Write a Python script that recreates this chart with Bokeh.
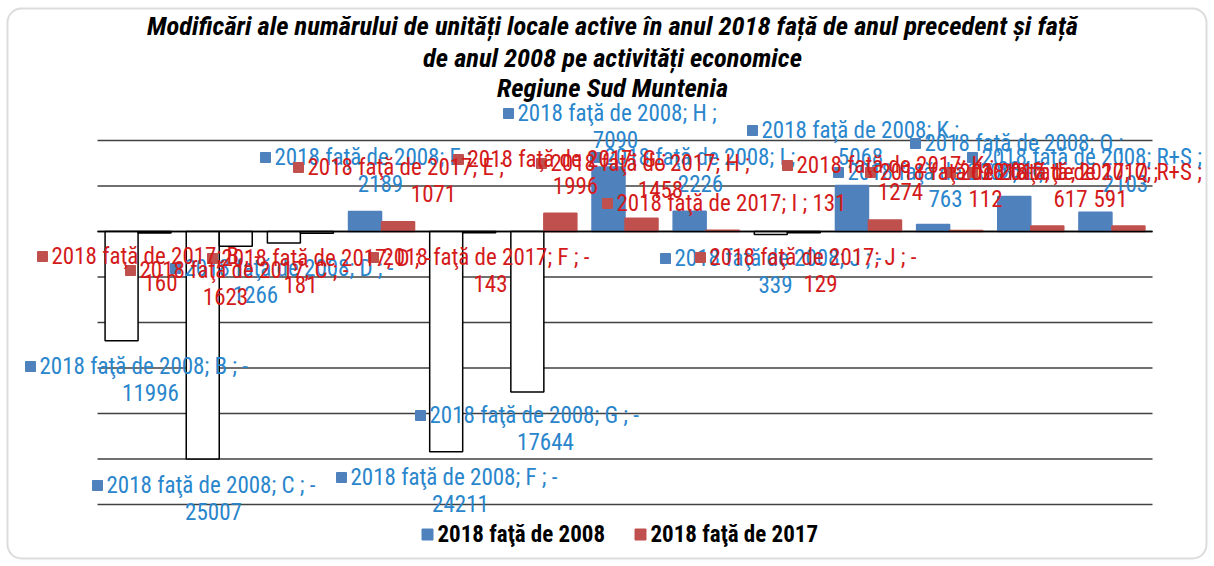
from bokeh.plotting import figure
from bokeh.models import Range1d, BoxAnnotation
from bokeh.core.properties import value
from bokeh.embed import file_html
from bokeh.resources import INLINE

# ---------------- DATA ----------------
categories = ["B", "C", "D", "E", "F", "G", "H", "I", "J", "K", "L", "Q", "R+S"]
series_names = ["2018 faţă de 2008", "2018 faţă de 2017"]
vs_2008 = [-11996, -25007, -1266, 2189, -24211, -17644, 7090, 2226, -339, 5068, 763, 3846, 2103]
vs_2017 = [-160, -1623, -181, 1071, -143, 1996, 1458, 131, -129, 1274, 112, 617, 591]
y_ticks = [-30000, -25000, -20000, -15000, -10000, -5000, 0, 5000, 10000]
title_lines = [
    "Modificări ale numărului de unități locale active în anul 2018 față de anul precedent și față",
    "de anul 2008 pe activități economice",
    "Regiune Sud Muntenia",
]

# ---------------- LAYOUT (page pixels) ----------------
W, H = 1210, 562
OFF = 0  # page offset of the canvas
PLOT_L, PLOT_R, PLOT_T, PLOT_B = 97, 1152, 140, 504
FONT = "Roboto Condensed"
BLUE, RED = "#4F81BD", "#C0504D"
BLUE_TXT, RED_TXT = "#2A86CC", "#D41A1A"

# label placement: (square x, line-1 y, line-2 centre x) in page px
lab_2008 = [(30, 366, 150), (97, 485, 213), (175, 268, 255), (265, 157, 380),
            (341, 477, 460), (420, 415, 545), (508, 113, 615), (595, 157, 700),
            (665, 258, 775), (752, 130, 860), (838, 172, 945), (915, 143, 1020),
            (972, 157, 1125)]
lab_2017 = [(42, 256, 160), (130, 270, 225), (212, 258, 300), (298, 167, 433),
            (373, 257, 490), (458, 159, 575), (541, 163, 660), (607, 203, None),
            (700, 257, 820), (787, 165, 900), (870, 172, 985), (950, 172, 1070),
            (972, 172, 1110)]

n = len(categories)
PX = (PLOT_R - PLOT_L) / n
UPP = (y_ticks[-1] - y_ticks[0]) / (PLOT_B - PLOT_T)
X0 = -(PLOT_L - OFF) / PX
X1 = n + (W + OFF - PLOT_R) / PX
YTOP = y_ticks[-1] + (PLOT_T - OFF) * UPP
YBOT = y_ticks[0] - (H + OFF - PLOT_B) * UPP


def X(px):
    return X0 + (px - OFF) / PX


def Y(py):
    return YTOP - (py - OFF) * UPP


p = figure(width=W, height=H, x_range=Range1d(X0, X1), y_range=Range1d(YBOT, YTOP),
           x_axis_location=None, y_axis_location=None, toolbar_location=None,
           output_backend="svg", min_border=0, outline_line_color=None,
           background_fill_color="white", border_fill_color="white")
p.xgrid.visible = False
p.ygrid.visible = False

# gridlines
p.segment(x0=[0] * len(y_ticks), x1=[n] * len(y_ticks), y0=y_ticks, y1=y_ticks,
          line_color=["#000000" if t == 0 else "#404040" for t in y_ticks],
          line_width=1.4)

bw = 33 / PX
for vals, col, off in ((vs_2008, BLUE, -bw / 2), (vs_2017, RED, bw / 2)):
    xs = [i + 0.5 + off for i in range(n)]
    fills = ["white" if v < 0 else col for v in vals]
    lines = ["black" if v < 0 else col for v in vals]
    p.vbar(x=xs, top=vals, bottom=0, width=bw, fill_color=fills,
           line_color=lines, line_width=1.5)

# zero line on top
p.segment(x0=[0], x1=[n], y0=[0], y1=[0], line_color="black", line_width=1.5)

# data labels
for vals, name, lay, sqc, tc in ((vs_2008, series_names[0], lab_2008, BLUE, BLUE_TXT),
                                 (vs_2017, series_names[1], lab_2017, RED, RED_TXT)):
    sx, sy, t1x, t1y, t1, t2x, t2y, t2 = [], [], [], [], [], [], [], []
    for cat, v, (qx, qy, cx2) in zip(categories, vals, lay):
        sx.append(X(qx)); sy.append(Y(qy))
        if cx2 is None:
            line1 = f"{name}; {cat} ; {v}" if v >= 0 else f"{name}; {cat} ; -{abs(v)}"
        else:
            line1 = f"{name}; {cat} ;" + (" -" if v < 0 else "")
            t2x.append(X(cx2)); t2y.append(Y(qy + 26)); t2.append(str(abs(v)))
        t1x.append(X(qx + 9)); t1y.append(Y(qy)); t1.append(line1)
    p.scatter(x=sx, y=sy, marker="square", size=10, fill_color=sqc, line_color=sqc)
    p.text(x=t1x, y=t1y, text=t1, text_font=value(FONT), text_font_size="23px",
           text_color=tc, text_align="left", text_baseline="middle")
    p.text(x=t2x, y=t2y, text=t2, text_font=value(FONT), text_font_size="23px",
           text_color=tc, text_align="center", text_baseline="middle")

# title
p.text(x=[X(612)] * 3, y=[Y(25), Y(57), Y(87)], text=title_lines, text_font=value(FONT),
       text_font_size="26.5px", text_font_style="bold italic", text_color="black",
       text_align="center", text_baseline="middle")

# legend
p.scatter(x=[X(427), X(640)], y=[Y(534), Y(534)], marker="square", size=11,
          fill_color=[BLUE, RED], line_color=[BLUE, RED])
p.text(x=[X(437), X(650)], y=[Y(534), Y(534)], text=series_names, text_font=value(FONT),
       text_font_size="23px", text_font_style="bold", text_color="black",
       text_align="left", text_baseline="middle")

# rounded chart border
p.add_layout(BoxAnnotation(left=X(7), right=X(1206), top=Y(8), bottom=Y(558),
                           fill_alpha=0, line_color="#8C8C8C", line_width=2,
                           border_radius=14))

open("out.html", "w").write(file_html(p, INLINE))
